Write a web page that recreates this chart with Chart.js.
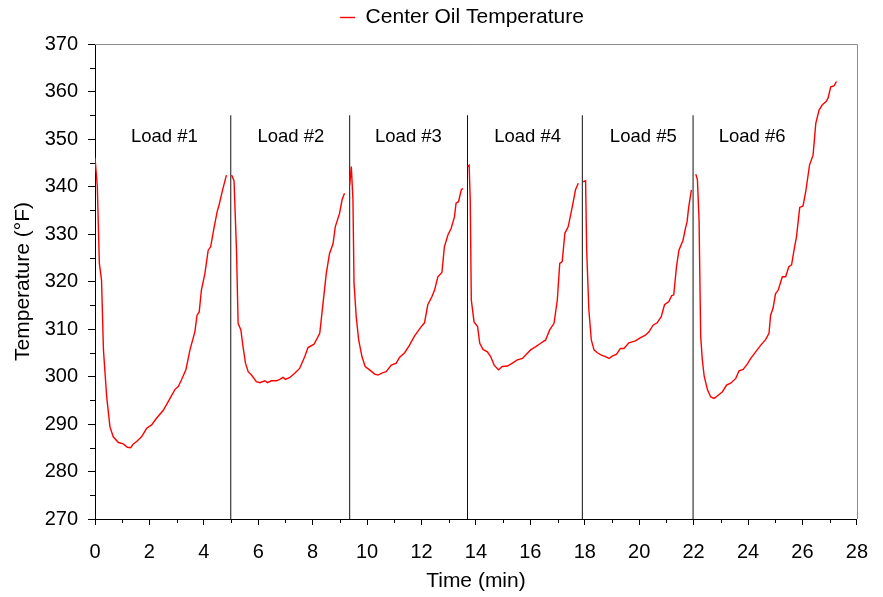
<!DOCTYPE html>
<html>
<head>
<meta charset="utf-8">
<script src="https://cdn.jsdelivr.net/npm/chart.js@4"></script>
<style>
html,body{margin:0;padding:0;background:#fff;}
#wrap{width:883px;height:597px;}
</style>
</head>
<body>
<div id="wrap"><canvas id="c" width="883" height="597"></canvas></div>
<script>
// ---------- DATA ----------
const seriesName = 'Center Oil Temperature';
const xTitle = 'Time (min)';
const yTitle = 'Temperature (°F)';

const load1Time = [0, 0.085, 0.16, 0.24, 0.31, 0.43, 0.55, 0.67, 0.86, 1.04, 1.19, 1.31, 1.41, 1.53, 1.71, 1.90, 2.08, 2.26, 2.51, 2.69, 2.94, 3.06, 3.18, 3.34, 3.49, 3.67, 3.75, 3.83, 3.91, 4.04, 4.16, 4.25, 4.37, 4.49, 4.56, 4.69, 4.83];
const load1Temp = [346.1, 340.0, 323.8, 320.3, 305.6, 295.7, 289.4, 287.3, 286.1, 285.8, 285.1, 285.0, 285.8, 286.3, 287.3, 289.1, 289.8, 291.2, 292.9, 294.7, 297.3, 297.9, 299.3, 301.4, 305.6, 309.4, 312.9, 313.6, 318.2, 321.7, 326.6, 327.3, 331.2, 334.7, 336.1, 339.3, 342.4];

const load2Time = [5.02, 5.11, 5.20, 5.26, 5.36, 5.44, 5.53, 5.63, 5.75, 5.93, 6.06, 6.24, 6.34, 6.48, 6.67, 6.79, 6.91, 7.00, 7.16, 7.34, 7.52, 7.71, 7.83, 8.05, 8.26, 8.38, 8.50, 8.62, 8.75, 8.83, 8.99, 9.08, 9.17];
const load2Temp = [342.4, 341.2, 326.6, 311.2, 309.8, 306.3, 302.8, 301.0, 300.3, 298.9, 298.7, 299.1, 298.7, 299.1, 299.1, 299.4, 299.8, 299.4, 299.8, 300.7, 301.7, 304.2, 306.1, 306.8, 309.1, 315.4, 321.7, 325.9, 328.0, 331.5, 334.4, 337.2, 338.6];

const load3Time = [9.36, 9.42, 9.48, 9.52, 9.60, 9.69, 9.81, 9.93, 10.09, 10.28, 10.40, 10.58, 10.70, 10.89, 11.07, 11.19, 11.38, 11.56, 11.74, 11.99, 12.11, 12.23, 12.38, 12.48, 12.60, 12.75, 12.84, 12.97, 13.09, 13.21, 13.27, 13.36, 13.46, 13.52];
const load3Temp = [340.3, 344.2, 337.2, 319.6, 312.6, 307.7, 304.2, 302.1, 301.4, 300.5, 300.3, 300.8, 301.0, 302.4, 302.8, 304.0, 305.0, 306.6, 308.5, 310.5, 311.3, 315.1, 316.8, 318.2, 321.0, 321.9, 327.3, 329.8, 331.2, 333.6, 336.5, 336.8, 339.3, 339.6];

const load4Time = [13.69, 13.75, 13.79, 13.83, 13.93, 14.06, 14.14, 14.26, 14.42, 14.54, 14.67, 14.83, 14.97, 15.16, 15.34, 15.52, 15.71, 15.89, 16.01, 16.20, 16.38, 16.56, 16.71, 16.87, 16.99, 17.08, 17.17, 17.27, 17.39, 17.54, 17.66, 17.76];
const load4Temp = [344.2, 344.5, 337.2, 316.1, 311.5, 310.5, 307.0, 305.7, 305.2, 304.2, 302.4, 301.4, 302.1, 302.2, 302.8, 303.5, 303.8, 304.9, 305.6, 306.3, 307.0, 307.7, 309.8, 311.2, 316.1, 323.8, 324.2, 330.2, 331.5, 335.7, 339.3, 340.7];

const load5Time = [17.94, 18.03, 18.07, 18.15, 18.24, 18.34, 18.46, 18.61, 18.76, 18.89, 19.01, 19.17, 19.31, 19.44, 19.62, 19.86, 20.05, 20.23, 20.36, 20.51, 20.66, 20.81, 20.93, 21.09, 21.19, 21.27, 21.37, 21.46, 21.61, 21.70, 21.76, 21.82, 21.92];
const load5Temp = [341.0, 341.2, 326.6, 314.0, 307.7, 305.6, 305.0, 304.5, 304.2, 303.8, 304.3, 304.7, 305.9, 305.9, 307.1, 307.5, 308.2, 308.7, 309.4, 310.8, 311.3, 312.6, 315.1, 315.8, 317.0, 317.2, 323.1, 326.6, 328.7, 331.2, 332.6, 335.7, 339.3];

const load6Time = [22.08, 22.14, 22.20, 22.26, 22.32, 22.39, 22.51, 22.63, 22.75, 22.87, 23.06, 23.21, 23.36, 23.55, 23.67, 23.82, 23.97, 24.10, 24.28, 24.47, 24.65, 24.77, 24.83, 24.92, 25.01, 25.11, 25.26, 25.38, 25.50, 25.60, 25.69, 25.78, 25.90, 26.02, 26.12, 26.26, 26.39, 26.49, 26.61, 26.73, 26.87, 26.94, 27.04, 27.16, 27.25];
const load6Temp = [342.6, 341.4, 332.9, 308.4, 303.5, 300.0, 297.2, 295.7, 295.4, 295.9, 296.8, 298.2, 298.6, 299.6, 301.2, 301.5, 302.6, 303.8, 305.2, 306.6, 307.8, 309.1, 312.9, 314.4, 317.4, 318.2, 321.0, 321.0, 323.1, 323.5, 326.6, 329.4, 335.6, 335.9, 338.9, 344.5, 346.6, 353.3, 356.1, 357.2, 357.9, 358.6, 361.0, 361.2, 362.1];

const loadLabels = ['Load #1', 'Load #2', 'Load #3', 'Load #4', 'Load #5', 'Load #6'];
const loadLabelTime = [2.55, 7.2, 11.52, 15.9, 20.15, 24.15];
const loadLabelTemp = 350.4;
const loadBoundaryTime = [4.99, 9.36, 13.69, 17.91, 21.98];
const loadBoundaryTemp = [270, 355];

const xMin = 0, xMax = 28, xStep = 2, xMinorStep = 1;
const yMin = 270, yMax = 370, yStep = 10, yMinorStep = 5;

// ---------- BUILD ----------
const FONT = '"Liberation Sans", Arial, Helvetica, sans-serif';
const loadTimes = [load1Time, load2Time, load3Time, load4Time, load5Time, load6Time];
const loadTemps = [load1Temp, load2Temp, load3Temp, load4Temp, load5Temp, load6Temp];

const mainPoints = [];
loadTimes.forEach((times, i) => {
  if (i > 0) {
    const prev = loadTimes[i - 1];
    mainPoints.push({ x: (prev[prev.length - 1] + times[0]) / 2, y: null });
  }
  times.forEach((t, j) => mainPoints.push({ x: t, y: loadTemps[i][j] }));
});

const datasets = [{
  label: seriesName,
  data: mainPoints,
  showLine: true,
  borderColor: '#ff0000',
  backgroundColor: '#ff0000',
  borderWidth: 1.4,
  pointRadius: 0,
  tension: 0,
  spanGaps: false,
  order: 0
}];
loadBoundaryTime.forEach((b) => {
  datasets.push({
    label: 'boundary',
    data: loadBoundaryTemp.map(v => ({ x: b, y: v })),
    showLine: true,
    borderColor: '#111111',
    borderWidth: 1,
    pointRadius: 0,
    order: 1
  });
});

const decorPlugin = {
  id: 'decor',
  afterLayout(chart) {
    const lg = chart.legend;
    if (lg) {
      const dx = 33, dy = -6;
      lg.left += dx; lg.right += dx;
      lg.top += dy; lg.bottom += dy;
    }
  },
  afterDatasetsDraw(chart) {
    const { ctx, chartArea: a, scales: { x, y } } = chart;
    ctx.save();
    // load labels
    ctx.fillStyle = '#000';
    ctx.font = '18.5px ' + FONT;
    ctx.textAlign = 'center';
    ctx.textBaseline = 'middle';
    loadLabels.forEach((lab, i) => {
      ctx.fillText(lab, x.getPixelForValue(loadLabelTime[i]), y.getPixelForValue(loadLabelTemp));
    });
    // plot frame (top / right)
    ctx.strokeStyle = '#8c8c8c';
    ctx.lineWidth = 1;
    ctx.beginPath();
    ctx.moveTo(a.left, Math.round(a.top) + 0.5);
    ctx.lineTo(Math.round(a.right) + 0.5, Math.round(a.top) + 0.5);
    ctx.lineTo(Math.round(a.right) + 0.5, a.bottom);
    ctx.stroke();
    // minor ticks
    ctx.strokeStyle = '#000';
    ctx.beginPath();
    for (let v = xMin + xMinorStep; v < xMax; v += xStep) {
      const px = Math.round(x.getPixelForValue(v)) + 0.5;
      ctx.moveTo(px, a.bottom);
      ctx.lineTo(px, a.bottom + 4);
    }
    for (let v = yMin + yMinorStep; v < yMax; v += yStep) {
      const py = Math.round(y.getPixelForValue(v)) + 0.5;
      ctx.moveTo(a.left, py);
      ctx.lineTo(a.left - 5, py);
    }
    ctx.stroke();
    ctx.restore();
  }
};

new Chart(document.getElementById('c'), {
  type: 'scatter',
  data: { datasets },
  options: {
    responsive: false,
    animation: false,
    devicePixelRatio: 1,
    layout: { padding: { top: 3, right: 25, bottom: 0, left: 0 } },
    plugins: {
      legend: {
        display: true,
        position: 'top',
        labels: {
          usePointStyle: true,
          pointStyle: 'line',
          pointStyleWidth: 15,
          padding: 10,
          color: '#000',
          font: { family: FONT, size: 21 },
          filter: (item) => item.datasetIndex === 0
        }
      },
      tooltip: { enabled: false }
    },
    scales: {
      x: {
        type: 'linear',
        min: xMin, max: xMax,
        afterFit: (s) => { s.height = 78; },
        ticks: { stepSize: xStep, color: '#000', font: { family: FONT, size: 20 }, padding: 15, maxRotation: 0 },
        grid: { drawOnChartArea: false, drawTicks: true, tickLength: 6, color: '#000' },
        border: { color: '#000', width: 1 },
        title: { display: true, text: xTitle, color: '#000', font: { family: FONT, size: 21 }, padding: { top: 0, bottom: 3 } }
      },
      y: {
        type: 'linear',
        min: yMin, max: yMax,
        afterFit: (s) => { s.width = 95; },
        ticks: { stepSize: yStep, color: '#000', font: { family: FONT, size: 20 }, padding: 10 },
        grid: { drawOnChartArea: false, drawTicks: true, tickLength: 7, color: '#000' },
        border: { color: '#000', width: 1 },
        title: { display: true, text: yTitle, color: '#000', font: { family: FONT, size: 21 }, padding: { top: 11, bottom: 0 } }
      }
    }
  },
  plugins: [decorPlugin]
});
</script>
</body>
</html>
